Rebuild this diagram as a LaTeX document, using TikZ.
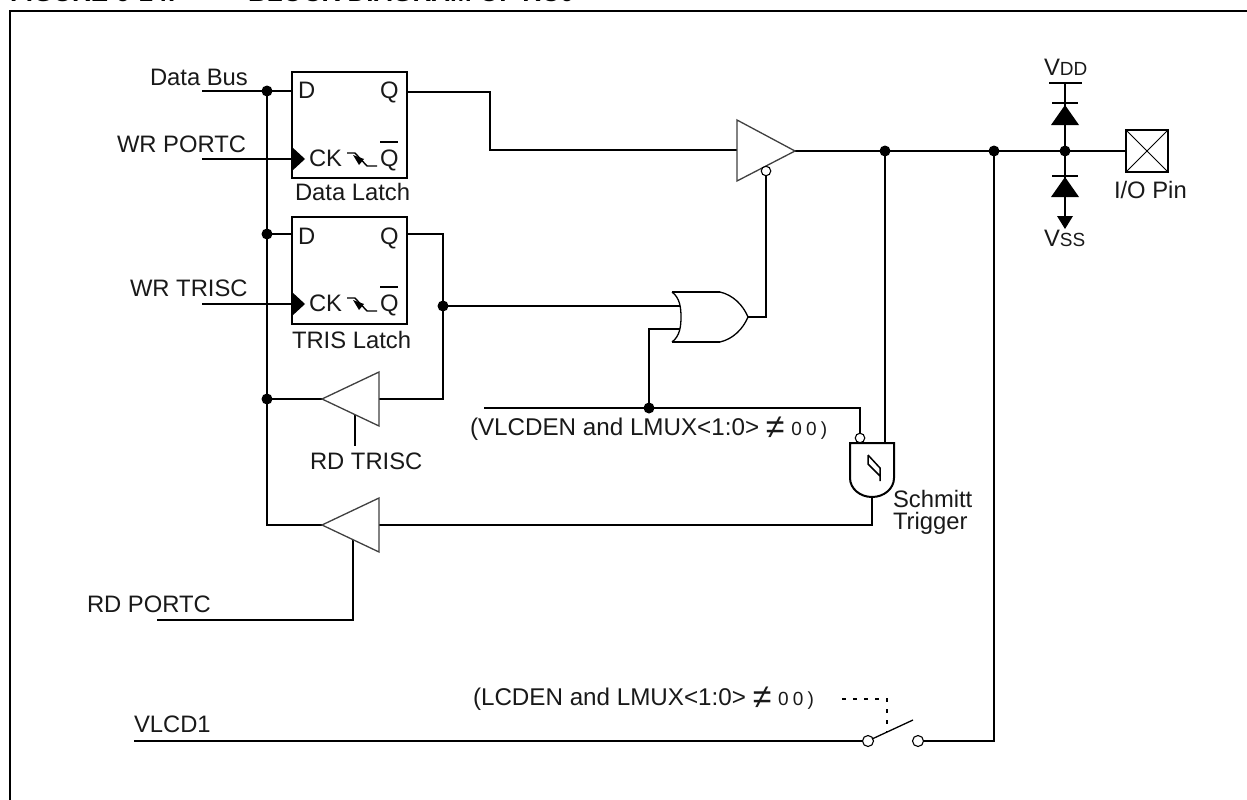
\documentclass[tikz,border=0pt]{standalone}
\usepackage{fontspec}
\setmainfont{Liberation Sans}
\newfontfamily\zerofont[LetterSpace=22]{Liberation Sans}
\newcommand{\bigne}{\raisebox{-3pt}{\fontsize{34}{34}\selectfont ≠}}
\begin{document}
\begin{tikzpicture}[x=1pt,y=-1pt,
  every node/.style={inner sep=0pt,outer sep=0pt},
  lbl/.style={anchor=base west,font=\fontsize{23.8}{26}\selectfont,text=black!90},
  cond/.style={anchor=base west,font=\fontsize{24.2}{26}\selectfont,text=black!90},
  wire/.style={line width=2pt,line cap=butt,line join=miter},
  dot/.style={circle,fill=black,minimum size=11pt},
  bubble/.style={circle,draw=black,line width=1.1pt,fill=white,minimum size=9.5pt},
  latchbox/.style={rectangle,draw=black,line width=2pt,minimum width=115pt,minimum height=106pt,anchor=north west},
  buf/.style={draw=black!75,line width=1.3pt,line join=miter,fill=white},
  solid fill/.style={fill=black,draw=none}
]
\clip (0,0) rectangle (1247,800);
\fill[white] (0,0) rectangle (1247,800);
% title (cut off at the top edge)
\node[anchor=base west,font=\bfseries\fontsize{26}{28}\selectfont] (figno) at (10,1.8) {FIGURE 6-14:};
\node[anchor=base west,font=\bfseries\fontsize{26}{28}\selectfont] (figtitle) at (248,1.8) {BLOCK DIAGRAM OF RC0};
% frame
\draw[line width=2.5pt] (10,800) -- (10,11) -- (1247,11);

% --- named points ---
\coordinate (j1) at (267,91);
\coordinate (j2) at (267,234);
\coordinate (j3) at (267,399);
\coordinate (busbot) at (267,525);
\coordinate (inD) at (202,91);
\coordinate (inWP) at (202,159);
\coordinate (inWT) at (202,304);
\coordinate (j4) at (443,306);
\coordinate (j5) at (649,408);
\coordinate (j6) at (885,151);
\coordinate (j7) at (994,151);
\coordinate (j8) at (1065,151);

% latches
\node[latchbox] (L1) at (292,72) {};
\node[latchbox,minimum height=107pt] (L2) at (292,217) {};

% wires left
\draw[wire] (inD) -- (292,91);
\draw[wire] (inWP) -- (292,159);
\draw[wire] (inWT) -- (292,304);
\draw[wire] (j1) -- (busbot) -- (322,525);
\draw[wire] (j2) -- (292,234);
\draw[wire] (j3) -- (322,399);
\draw[wire] (407,92) -- (490,92) -- (490,150) -- (737,150);
\draw[wire] (407,234) -- (443,234) -- (443,399) -- (379,399);
\draw[wire] (j4) -- (680,306);
\draw[wire] (680,329) -- (649,329) -- (j5);
\draw[wire] (484,408) -- (860,408) -- (860,433);
\draw[wire] (355,415) -- (355,446);
\draw[wire] (353,540) -- (353,620) -- (157,620);
\draw[wire] (379,525) -- (872,525) -- (872,497);
\draw[wire] (795,151) -- (1126,151);
\draw[wire] (j6) -- (885,443);
\draw[wire] (j7) -- (994,741) -- (923,741);
\draw[wire] (748,317) -- (766,317) -- (766,176);
\draw[wire] (134,741) -- (863,741);

% clock wedges
\fill[solid fill] (292,147) -- (305,159) -- (292,171) -- cycle;
\fill[solid fill] (292,292) -- (305,304) -- (292,316) -- cycle;

% buffers
\draw[buf] (737,120) -- (795,151) -- (737,181) -- cycle;
\draw[buf] (379,372) -- (322,399) -- (379,426) -- cycle;
\draw[buf] (379,498) -- (322,525) -- (379,552) -- cycle;
\node[bubble] (b1) at (766,171) {};

% OR gate
\draw[line width=1.3pt] (672,292) .. controls (680,298) and (681,308) .. (681,317) .. controls (681,326) and (680,336) .. (672,342);
\draw[line width=1.3pt] (720,292) .. controls (733,295) and (743,305) .. (748,317) .. controls (743,329) and (733,339) .. (720,342);
\draw[wire] (672,292) -- (720,292);
\draw[wire] (672,342) -- (720,342);

% Schmitt gate
\draw[wire,fill=white] (850,443) -- (894,443) -- (894,478) arc[start angle=0,end angle=180,x radius=22,y radius=19] -- cycle;
\draw[line width=1.5pt,line join=miter] (868,455) -- (868,464) -- (880,476) (868,455) -- (880,468) -- (880,481);
\node[bubble] (b2) at (860,438) {};

% latch delay marks
\foreach \y in {0,145}{
  \draw[line width=1.4pt] (347,153+\y) -- (355,153+\y) -- (367,166+\y) -- (377,166+\y);
  \fill (353,155+\y) -- (364,159+\y) -- (359,165+\y) -- cycle;
}

% diodes and pin
\draw[wire] (1049,83) -- (1082,83);
\draw[wire] (1065,83) -- (1065,217);
\draw[wire] (1052,103) -- (1078,103);
\fill[solid fill] (1065,105) -- (1079,125) -- (1051,125) -- cycle;
\draw[wire] (1052,176) -- (1078,176);
\fill[solid fill] (1065,177) -- (1079,197) -- (1051,197) -- cycle;
\fill[solid fill] (1057,216) -- (1073,216) -- (1065,229) -- cycle;
\node[rectangle,draw=black,line width=2pt,minimum width=42pt,minimum height=42pt,anchor=north west] (pin) at (1126,130) {};
\draw[line width=1pt] (pin.north west) -- (pin.south east) (pin.north east) -- (pin.south west);

% switch
\node[bubble,minimum size=11pt] (s1) at (868,741) {};
\node[bubble,minimum size=11pt] (s2) at (918,741) {};
\draw[line width=1.3pt] (s1) ++(4,-2) -- (913,720);
\draw[line width=1.6pt,dash pattern=on 4pt off 7pt] (842,699) -- (887,699) -- (887,732);

% junctions
\foreach \p in {j1,j2,j3,j4,j5,j6,j7,j8}{\node[dot] at (\p) {};}

% texts
\node[lbl] (tDB) at (150,85) {Data Bus};
\node[lbl] (tWP) at (117,152) {WR PORTC};
\node[lbl] (tWT) at (130,296) {WR TRISC};
\node[lbl] (tD1) at (298,99) {D};
\node[lbl] (tQ1) at (380,99) {Q};
\node[lbl] (tC1) at (309,166) {CK};
\node[lbl] (tN1) at (380,166) {Q};
\draw[line width=1.6pt] (380,142) -- (398,142);
\node[lbl] (tL1) at (295,200) {Data Latch};
\node[lbl] (tD2) at (298,244) {D};
\node[lbl] (tQ2) at (380,244) {Q};
\node[lbl] (tC2) at (309,311) {CK};
\node[lbl] (tN2) at (380,311) {Q};
\draw[line width=1.6pt] (380,287) -- (398,287);
\node[lbl] (tL2) at (292,348) {TRIS Latch};
\node[lbl] (tRT) at (310,469) {RD TRISC};
\node[lbl] (tRP) at (87,612) {RD PORTC};
\node[cond] (tV1) at (470,435) {(VLCDEN and LMUX<1:0> \bigne{} {\zerofont\fontsize{19}{20}\selectfont 00)}};
\node[cond] (tV2) at (473,705) {(LCDEN and LMUX<1:0> \bigne{} {\zerofont\fontsize{19}{20}\selectfont 00)}};
\node[lbl] (tVL) at (134,732) {VLCD1};
\node[lbl] (tVD) at (1044,75) {V{\fontsize{19}{20}\selectfont DD}};
\node[lbl] (tVS) at (1044,246) {V{\fontsize{19}{20}\selectfont SS}};
\node[lbl] (tIO) at (1114,198) {I/O Pin};
\node[lbl] (tS1) at (893,507) {Schmitt};
\node[lbl] (tS2) at (893,529) {Trigger};
\end{tikzpicture}
\end{document}
